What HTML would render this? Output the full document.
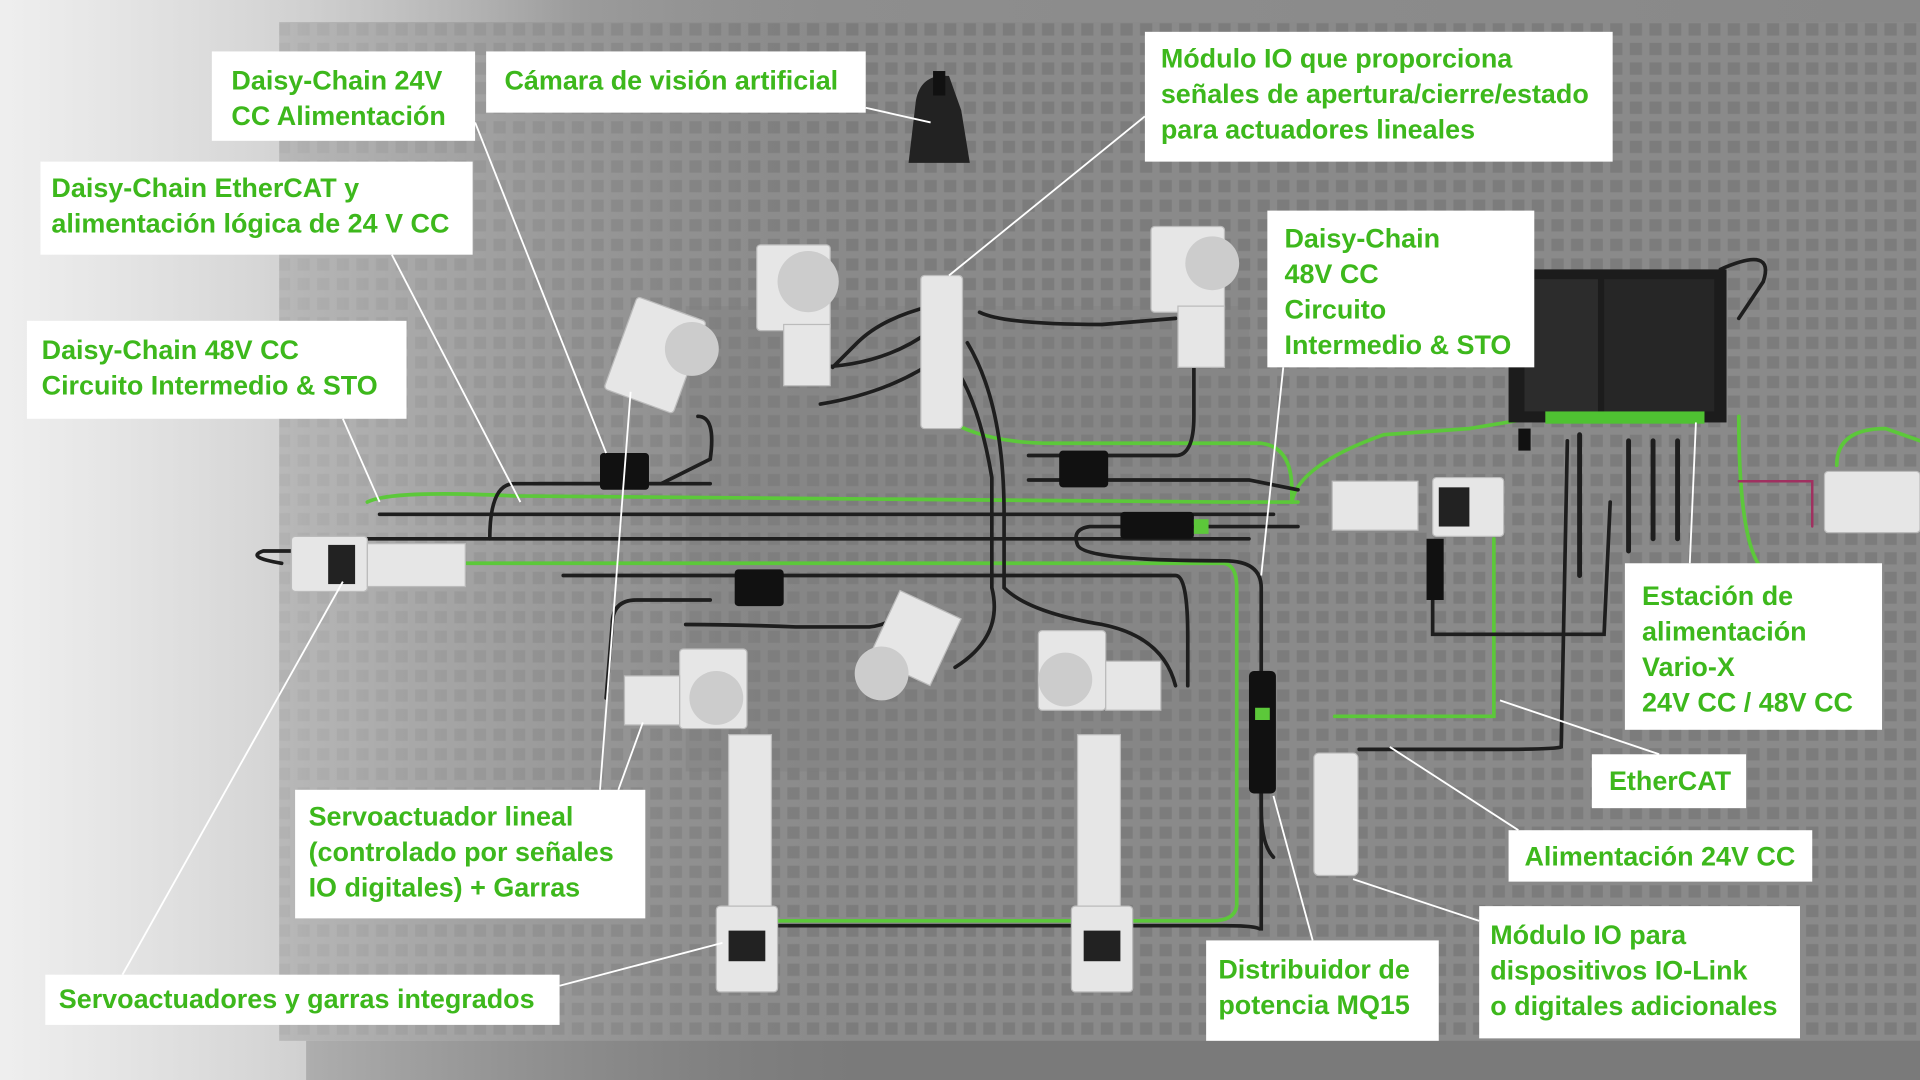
<!DOCTYPE html>
<html><head><meta charset="utf-8"><style>
html,body{margin:0;padding:0;width:1920px;height:1080px;overflow:hidden;background:#ddd}
svg{display:block}
text{font-family:"Liberation Sans",sans-serif;font-weight:bold;font-size:22px;fill:#3db81c}
</style></head><body>
<svg width="1920" height="1080" viewBox="0 0 1568 882" xmlns="http://www.w3.org/2000/svg">
<defs>
<linearGradient id="bg" x1="0" x2="1" y1="0" y2="0">
<stop offset="0" stop-color="#f2f2f2"/><stop offset="0.15" stop-color="#c9c9c9"/><stop offset="0.3" stop-color="#8f8f8f"/><stop offset="1" stop-color="#888"/></linearGradient>
<pattern id="holes" width="16" height="16" patternUnits="userSpaceOnUse">
<rect width="16" height="16" fill="#8a8a8a"/><rect x="3" y="3" width="10" height="10" fill="#7c7c7c"/></pattern>
<linearGradient id="fade" x1="0" x2="1"><stop offset="0" stop-color="#eee" stop-opacity="0.9"/><stop offset="0.25" stop-color="#ccc" stop-opacity="0.35"/><stop offset="0.45" stop-color="#999" stop-opacity="0"/></linearGradient>
</defs>
<rect width="1568" height="882" fill="url(#bg)"/>
<rect x="228" y="18" width="1340" height="832" fill="url(#holes)"/>
<rect x="250" y="850" width="1318" height="32" fill="#7a7a7a"/>
<rect x="0" y="0" width="1568" height="882" fill="url(#fade)"/>
<rect x="560" y="250" width="460" height="380" fill="#7f7f7f" opacity="0.35"/>
<!-- cables -->
<g fill="none" stroke-linecap="round">
<path d="M300 410 Q320 400 420 405 L1000 410 L1060 410" stroke="#5cc83a" stroke-width="3"/>
<path d="M300 460 L1000 460 Q1010 462 1010 480 L1010 740 Q1008 752 990 752 L620 752" stroke="#5cc83a" stroke-width="3"/>
<path d="M770 340 Q800 362 860 362 L1030 362 Q1055 365 1055 400 L1055 410" stroke="#5cc83a" stroke-width="3"/>
<path d="M1055 410 Q1060 380 1130 355 L1200 350 L1260 340 L1390 340" stroke="#5cc83a" stroke-width="3"/>
<path d="M1220 440 L1220 585 L1090 585" stroke="#5cc83a" stroke-width="3"/>
<path d="M1420 340 Q1420 470 1450 470" stroke="#5cc83a" stroke-width="3"/>
<path d="M1500 380 Q1500 350 1540 350 L1568 360" stroke="#5cc83a" stroke-width="3"/>
<path d="M310 420 L1040 420 M300 440 L1020 440" stroke="#1e1e1e" stroke-width="3"/>
<path d="M400 440 Q400 395 420 395 L580 395" stroke="#1e1e1e" stroke-width="3"/>
<path d="M440 395 L540 395 L580 375 Q585 340 570 340" stroke="#1e1e1e" stroke-width="3"/>
<path d="M460 470 L960 470 Q970 470 970 520 L970 560" stroke="#1e1e1e" stroke-width="3"/>
<path d="M580 490 L520 490 Q500 490 500 510 L495 570" stroke="#1e1e1e" stroke-width="3"/>
<path d="M560 510 Q600 510 650 512 L710 512 Q730 510 740 495" stroke="#1e1e1e" stroke-width="3"/>
<path d="M760 250 Q720 260 700 280 L680 300 M760 270 Q720 300 660 300 M770 290 Q730 320 670 330 M780 300 Q800 330 810 390 L810 480 Q820 520 780 545 M790 280 Q820 330 820 420 L820 480 Q840 500 900 510 Q950 520 960 560 M800 255 Q820 265 900 265 L960 260" stroke="#1e1e1e" stroke-width="3"/>
<path d="M840 372 L960 372 Q975 372 975 340 L975 300 M840 392 L1020 392 L1060 400" stroke="#1e1e1e" stroke-width="3"/>
<path d="M1060 430 L890 430 Q875 432 880 445 Q885 458 1000 458 Q1030 458 1030 480 L1030 760 Q1030 756 1000 756 L630 756" stroke="#1e1e1e" stroke-width="3"/>
<path d="M1030 560 L1030 660 Q1030 690 1040 700" stroke="#1e1e1e" stroke-width="3"/>
<path d="M1170 480 L1170 518 L1310 518 L1315 410 M1280 360 L1275 610 Q1270 612 1220 612 L1110 612" stroke="#1e1e1e" stroke-width="3"/>
<path d="M1290 355 L1290 470 M1330 360 L1330 450 M1350 360 L1350 440 M1370 360 L1370 440" stroke="#1e1e1e" stroke-width="4"/>
<path d="M1405 220 Q1450 200 1440 230 L1420 260" stroke="#1e1e1e" stroke-width="3"/>
<path d="M1420 393 L1480 393 L1480 430" stroke="#a03060" stroke-width="2"/>
<path d="M230 460 Q200 455 215 450 L240 450" stroke="#1e1e1e" stroke-width="3"/>
</g>
<!-- connectors -->
<g fill="#111">
<rect x="490" y="370" width="40" height="30" rx="3"/><rect x="600" y="465" width="40" height="30" rx="3"/>
<rect x="865" y="368" width="40" height="30" rx="3"/><rect x="915" y="418" width="60" height="22" rx="3"/>
<rect x="1020" y="548" width="22" height="100" rx="4"/><rect x="1165" y="440" width="14" height="50"/>
<rect x="1240" y="350" width="10" height="18"/>
</g>
<rect x="975" y="424" width="12" height="12" fill="#5cc83a"/><rect x="1025" y="578" width="12" height="10" fill="#5cc83a"/>
<!-- power station -->
<rect x="1232" y="220" width="178" height="125" fill="#1c1c1c"/>
<rect x="1245" y="228" width="60" height="108" fill="#2c2c2c"/><rect x="1310" y="228" width="90" height="108" fill="#262626"/>
<rect x="1262" y="336" width="130" height="10" fill="#4fc232"/>
<!-- white devices -->
<g fill="#e6e6e6" stroke="#bbb" stroke-width="1">
<rect x="752" y="225" width="34" height="125" rx="3"/>
<rect x="238" y="438" width="62" height="45" rx="3"/><rect x="300" y="444" width="80" height="35"/>
<rect x="1088" y="393" width="70" height="40"/><rect x="1170" y="390" width="58" height="48" rx="3"/>
<rect x="618" y="200" width="60" height="70" rx="3"/><rect x="640" y="265" width="38" height="50"/>
<rect x="940" y="185" width="60" height="70" rx="3"/><rect x="962" y="250" width="38" height="50"/>
<rect x="505" y="250" width="60" height="80" rx="3" transform="rotate(20 535 290)"/>
<rect x="720" y="490" width="55" height="60" transform="rotate(25 745 520)"/>
<rect x="555" y="530" width="55" height="65" rx="3"/><rect x="510" y="552" width="45" height="40"/>
<rect x="848" y="515" width="55" height="65" rx="3"/><rect x="903" y="540" width="45" height="40"/>
<rect x="595" y="600" width="35" height="150"/><rect x="585" y="740" width="50" height="70" rx="3"/>
<rect x="880" y="600" width="35" height="150"/><rect x="875" y="740" width="50" height="70" rx="3"/>
<rect x="1073" y="615" width="36" height="100" rx="4"/>
<rect x="1490" y="385" width="78" height="50" rx="3"/>
</g>
<g fill="#ccc"><circle cx="660" cy="230" r="25"/><circle cx="990" cy="215" r="22"/><circle cx="565" cy="285" r="22"/><circle cx="720" cy="550" r="22"/><circle cx="585" cy="570" r="22"/><circle cx="870" cy="555" r="22"/></g>
<g fill="#222"><rect x="268" y="445" width="22" height="32"/><rect x="1175" y="398" width="25" height="32"/><rect x="595" y="760" width="30" height="25"/><rect x="885" y="760" width="30" height="25"/></g>
<path d="M748 82 Q752 60 775 62 L785 90 L792 133 L742 133 Z" fill="#222"/><rect x="762" y="58" width="10" height="20" fill="#111"/>
<!-- leader lines -->
<g stroke="#fff" stroke-width="1.5" fill="none">
<path d="M388 100 L495 370"/><path d="M707 88 L760 100"/><path d="M935 95 L775 225"/>
<path d="M320 208 L425 410"/><path d="M280 342 L310 410"/><path d="M1048 300 L1030 470"/>
<path d="M1380 460 L1385 345"/><path d="M1355 616 L1225 572"/><path d="M1240 678 L1135 610"/>
<path d="M1208 752 L1105 718"/><path d="M1072 768 L1040 650"/><path d="M490 645 L515 320"/><path d="M505 645 L525 590"/>
<path d="M457 805 L590 770"/><path d="M100 796 L280 475"/>
</g>
<!-- labels -->
<g fill="#fff">
<rect x="173" y="42" width="215" height="73"/><rect x="397" y="42" width="310" height="50"/>
<rect x="935" y="26" width="382" height="106"/><rect x="33" y="132" width="353" height="76"/>
<rect x="22" y="262" width="310" height="80"/><rect x="1035" y="172" width="218" height="128"/>
<rect x="1327" y="460" width="210" height="136"/><rect x="1300" y="616" width="126" height="44"/>
<rect x="1232" y="678" width="248" height="42"/><rect x="1208" y="740" width="262" height="108"/>
<rect x="985" y="768" width="190" height="82"/><rect x="241" y="645" width="286" height="105"/>
<rect x="37" y="796" width="420" height="41"/>
</g>
<text x="189" y="73">Daisy-Chain 24V</text><text x="189" y="102">CC Alimentación</text>
<text x="412" y="73">Cámara de visión artificial</text>
<text x="948" y="55">Módulo IO que proporciona</text><text x="948" y="84">señales de apertura/cierre/estado</text><text x="948" y="113">para actuadores lineales</text>
<text x="42" y="161">Daisy-Chain EtherCAT y</text><text x="42" y="190">alimentación lógica de 24 V CC</text>
<text x="34" y="293">Daisy-Chain 48V CC</text><text x="34" y="322">Circuito Intermedio &amp; STO</text>
<text x="1049" y="202">Daisy-Chain</text><text x="1049" y="231">48V CC</text><text x="1049" y="260">Circuito</text><text x="1049" y="289">Intermedio &amp; STO</text>
<text x="1341" y="494">Estación de</text><text x="1341" y="523">alimentación</text><text x="1341" y="552">Vario-X</text><text x="1341" y="581">24V CC / 48V CC</text>
<text x="1314" y="645">EtherCAT</text>
<text x="1245" y="707">Alimentación 24V CC</text>
<text x="1217" y="771">Módulo IO para</text><text x="1217" y="800">dispositivos IO-Link</text><text x="1217" y="829">o digitales adicionales</text>
<text x="995" y="799">Distribuidor de</text><text x="995" y="828">potencia MQ15</text>
<text x="252" y="674">Servoactuador lineal</text><text x="252" y="703">(controlado por señales</text><text x="252" y="732">IO digitales) + Garras</text>
<text x="48" y="823">Servoactuadores y garras integrados</text>
</svg>
</body></html>
